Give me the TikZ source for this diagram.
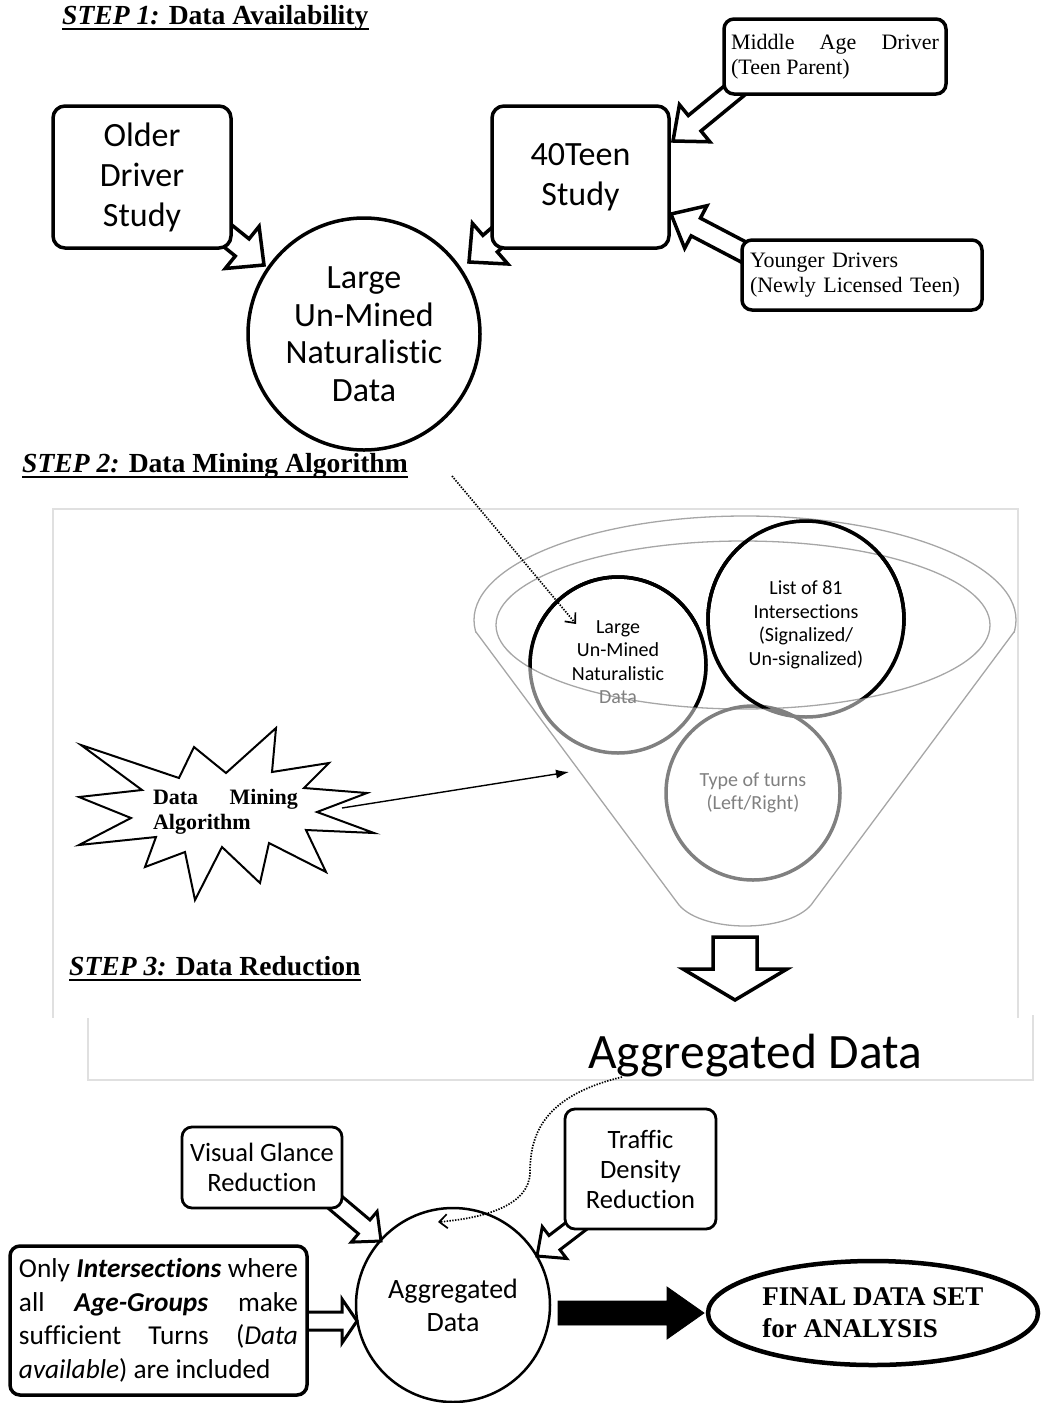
\documentclass[tikz,border=0pt]{standalone}
\usepackage{fontspec}
\setmainfont{Liberation Serif}
\newfontfamily\calfont[Ligatures=NoCommon]{Carlito}
\usetikzlibrary{calc,arrows.meta,shapes.geometric}
\newcommand\fsz[2]{\fontsize{#1}{#2}\selectfont}
\definecolor{fgray}{HTML}{808080}
\definecolor{lgray}{HTML}{A6A6A6}
% hollow block arrow: [style] tail tip bodyhalf headhalf headlen
\newcommand\harrow[6][]{%
  \coordinate (hb) at ($(#3)!#6pt!(#2)$);
  \draw[harr,#1] ($(#2)!#4pt!90:(#3)$) -- ($(hb)!#4pt!90:(#3)$) -- ($(hb)!#5pt!90:(#3)$) -- (#3)
     -- ($(hb)!#5pt!-90:(#3)$) -- ($(hb)!#4pt!-90:(#3)$) -- ($(#2)!#4pt!-90:(#3)$) -- cycle;}
\begin{document}
\begin{tikzpicture}[x=1pt,y=-1pt,
  title/.style={font=\bfseries\fsz{27.6}{30}, inner sep=0, anchor=base west},
  uline/.style={line width=1.8pt},
  bigbox/.style={draw, line width=3.5pt, rounded corners=12pt, fill=white, font=\calfont\fsz{34}{40}, align=center, inner sep=0},
  smallbox/.style={draw, line width=3.5pt, rounded corners=10pt, fill=white, font=\fsz{22}{25}, inner ysep=0},
  harr/.style={draw, line width=3.5pt, fill=white, line join=miter},
  box3/.style={draw, line width=2.8pt, rounded corners=10pt, fill=white, font=\calfont\fsz{26.5}{30}, align=center, inner sep=0},
  panel/.style={draw=black!12, line width=1.2pt},
  funnel/.style={draw=lgray, line width=1.3pt},
  fcirc/.style={circle, draw=fgray, line width=3.5pt, inner sep=0},
  ctext/.style={font=\calfont\fsz{20}{23.5}, align=center, inner sep=0},
  dotarr/.style={line width=1.7pt, dash pattern=on 1.4pt off 1.4pt, -{Straight Barb[length=8pt,width=14pt]}}
]
\useasboundingbox (0,0) rectangle (1041,1403);

% ---------------- STEP 1 ----------------
\node[title] (t1) at (62,24) {\textit{STEP 1:} Data Availability};
\draw[uline] ([yshift=-5pt]t1.base west) -- ([yshift=-5pt]t1.base east);

\node[circle, draw, line width=3.5pt, fill=white, minimum size=232, inner sep=0,
      font=\calfont\fsz{34}{37.5}, align=center] (big) at (364,334) {Large\\Un-Mined\\Naturalistic\\Data};

\coordinate (a1s) at (213,224); \coordinate (a1e) at (264,265);
\harrow{a1s}{a1e}{11}{27}{28}
\coordinate (a2s) at (515,222); \coordinate (a2e) at (469,262);
\harrow{a2s}{a2e}{11}{27}{28}
\coordinate (a3s) at (740,86); \coordinate (a3e) at (673,141);
\harrow{a3s}{a3e}{10}{24}{28}
\coordinate (a4s) at (755,258); \coordinate (a4e) at (671,214);
\harrow{a4s}{a4e}{10}{24}{28}

\node[bigbox, minimum width=178, minimum height=142] (older) at (142,177) {Older\\Driver\\Study};
\node[bigbox, minimum width=177, minimum height=142] (teen) at (580.5,177) {40Teen\\Study};
\node[smallbox, text width=208, inner xsep=7, align=justify, minimum height=75] (mid) at (835,56.5)
  {Middle Age Driver\linebreak (Teen Parent)};
\node[smallbox, text width=224, inner xsep=8, align=left, minimum height=70] (young) at (862,275)
  {Younger Drivers\\(Newly Licensed Teen)};

% ---------------- STEP 2 ----------------
\node[title] (t2) at (22,472) {\textit{STEP 2:} Data Mining Algorithm};
\draw[uline] ([yshift=-5pt]t2.base west) -- ([yshift=-5pt]t2.base east);

\draw[panel] (53,1018) -- (53,509) -- (1018,509) -- (1018,1018);
\draw[panel] (88,1018) -- (88,1080) -- (1033,1080) -- (1033,1015);

% funnel
\begin{scope}
  \clip (400,480) rectangle (1100,632);
  \draw[funnel] (745,620) ellipse[x radius=271, y radius=104];
\end{scope}
\draw[funnel] (476,632) -- (679,905) .. controls (703,933) and (787,933) .. (811,905) -- (1014,632);
\draw[funnel] (743,625) ellipse[x radius=247, y radius=84];

% circles in funnel (grey, then black where inside the rim)
\node[fcirc, minimum size=176] (c1) at (618,665) {};
\node[fcirc, minimum size=196] (c2) at (806,619) {};
\node[fcirc, minimum size=174] (c3) at (753,793) {};
\begin{scope}
  \clip (400,480) rectangle (1100,625);
  \draw[line width=3.5pt] (c1.center) circle[radius=88] (c2.center) circle[radius=98];
\end{scope}
\begin{scope}
  \clip (743,625) ellipse[x radius=247, y radius=84];
  \draw[line width=3.5pt] (c1.center) circle[radius=88] (c2.center) circle[radius=98];
\end{scope}
\node[ctext] (c1t) at (618,662) {Large\\Un-Mined\\Naturalistic\\\textcolor{fgray}{Data}};
\node[ctext] (c2t) at (806,625) {List of 81\\Intersections\\(Signalized/\\Un-signalized)};
\node[ctext, text=fgray] (c3t) at (753,793) {Type of turns\\(Left/Right)};

\coordinate (d1s) at (452,476); \coordinate (d1e) at (576,624);
\draw[dotarr] (d1s) -- (d1e);

% starburst
\draw[line width=2pt, line join=miter, fill=white]
  (81,745) -- (179,778) -- (194,747) -- (226,773) -- (276,728) -- (272,772) -- (329,763) -- (304,788)
  -- (367,793) -- (317,812) -- (374,833) -- (306,830) -- (326,872) -- (269,843) -- (260,883)
  -- (222,847) -- (195,900) -- (185,852) -- (145,867) -- (156,837) -- (79,845) -- (131,818)
  -- (79,797) -- (142,790) -- cycle;
\node[font=\bfseries\fsz{22}{25}, text width=145, align=justify, inner sep=0] (burst) at (225.5,812)
  {Data Mining\linebreak Algorithm};
\coordinate (bs) at (342,808); \coordinate (be) at (569,772);
\draw[line width=1.4pt, -{Latex[length=13pt,width=9pt]}] (bs) -- (be);

% ---------------- STEP 3 ----------------
\node[title] (t3) at (69,975) {\textit{STEP 3:} Data Reduction};
\draw[uline] ([yshift=-5pt]t3.base west) -- ([yshift=-5pt]t3.base east);

\coordinate (f1s) at (735,937); \coordinate (f1e) at (735,1000);
\harrow{f1s}{f1e}{22}{52}{31}

\node[font=\calfont\fsz{49.5}{52}, inner sep=0, anchor=base west] (aggt) at (588,1068) {Aggregated Data};

\node[circle, draw, line width=2.5pt, fill=white, minimum size=194, inner sep=0,
      font=\calfont\fsz{28}{33}, align=center] (agg) at (453,1305) {Aggregated\\Data};

\coordinate (d2s) at (622,1077); \coordinate (d2e) at (438,1222);
\draw[dotarr] (d2s) .. controls (548,1095) and (530,1130) .. (530,1172)
   .. controls (530,1205) and (485,1218) .. (d2e);

\coordinate (v1s) at (330,1198); \coordinate (v1e) at (381,1241);
\harrow[line width=3pt]{v1s}{v1e}{9}{20}{22}
\coordinate (t1s) at (584,1220); \coordinate (t1e) at (537,1256);
\harrow[line width=3pt]{t1s}{t1e}{9}{20}{22}
\coordinate (o1s) at (300,1321); \coordinate (o1e) at (357,1321);
\harrow[line width=3pt]{o1s}{o1e}{9}{22}{15}

\node[box3, minimum width=160, minimum height=81] (vis) at (262,1167.5) {Visual Glance\\Reduction};
\node[box3, minimum width=151, minimum height=120] (traf) at (640.5,1169) {Traffic\\Density\\Reduction};
\node[box3, line width=3.5pt, text width=279, align=justify, inner xsep=9, minimum height=149,
      font=\calfont\fsz{27.3}{33.5}] (only) at (158.5,1320.5)
  {Only \textbf{\textit{Intersections}} where\linebreak all \textbf{\textit{Age-Groups}} make\linebreak
   sufficient Turns (\textit{Data}\linebreak \textit{available}) are included};

\coordinate (k1s) at (558,1313); \coordinate (k1e) at (704,1313);
\harrow[fill=black, line width=0.8pt]{k1s}{k1e}{12}{26}{37}

\node[ellipse, draw, line width=4.5pt, minimum width=330, minimum height=104, inner sep=0,
      font=\bfseries\fsz{27}{32}, align=left] (final) at (873,1313) {FINAL DATA SET\\for ANALYSIS};
\end{tikzpicture}
\end{document}
